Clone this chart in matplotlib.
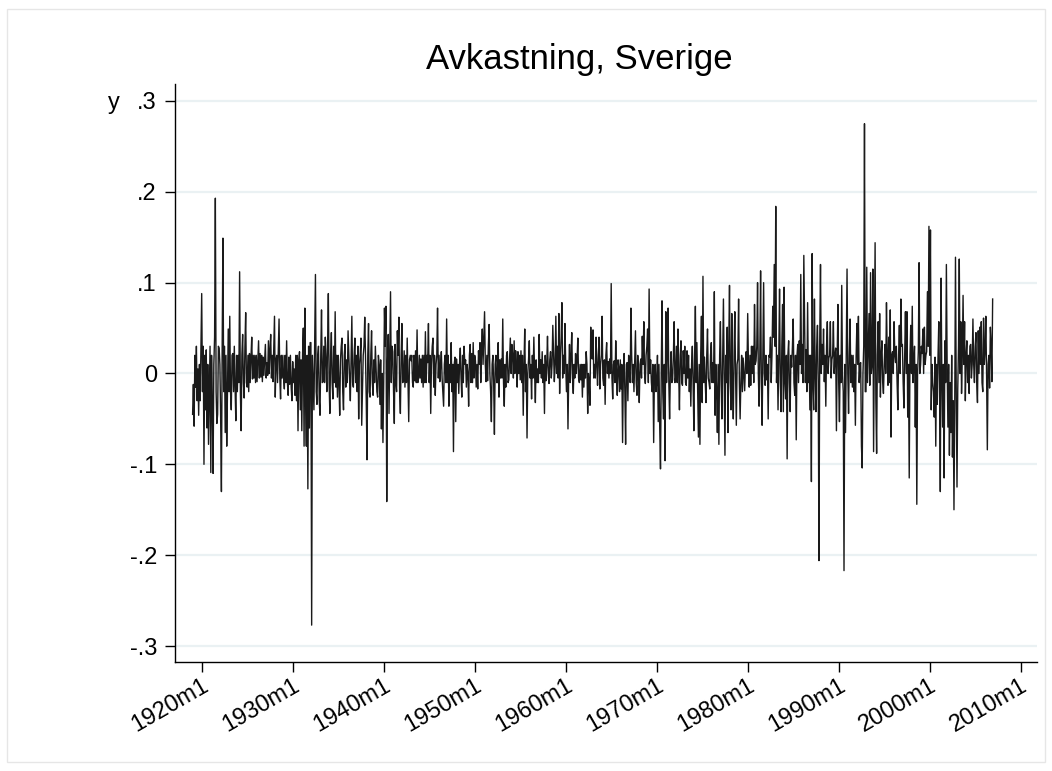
import numpy as np
import matplotlib
matplotlib.use('Agg')
import matplotlib.pyplot as plt
from matplotlib.patches import Rectangle

plt.rcParams['font.family'] = ['Liberation Sans', 'DejaVu Sans']

# monthly returns, first month 1919m1, one row per year
ret_1919 = [-0.045, -0.012, -0.058, 0.02, -0.015, 0.03, -0.03, 0.005, -0.046, 0.01, -0.03, 0.025]

ret_1920s = [
    0.088, -0.02, 0.03, -0.10, 0.02, -0.04, 0.026, -0.06, 0.01, -0.078, -0.02, 0.03,
    -0.109, 0.02, -0.03, -0.11, 0.01, 0.04, 0.193, -0.02, -0.055, -0.045, 0.03, 0.028,
    0.01, -0.05, -0.13, 0.03, 0.149, -0.02, 0.03, -0.065, 0.02, -0.08, -0.02, 0.049,
    -0.02, 0.063, -0.02, -0.04, 0.02, 0.022, -0.02, 0.03, -0.015, -0.052, 0.02, -0.02,
    0.02, -0.01, 0.112, -0.02, -0.063, 0.02, 0.043, -0.01, -0.027, 0.03, 0.067, -0.01,
    -0.015, 0.02, -0.02, 0.022, -0.01, 0.018, 0.04, -0.006, 0.02, -0.005, 0.02, -0.01,
    0.02, -0.009, 0.015, 0.036, -0.005, 0.022, -0.004, 0.02, -0.009, 0.018, -0.002, 0.015,
    0.032, -0.005, 0.012, -0.002, 0.036, 0.0, 0.026, 0.043, -0.005, 0.02, -0.009, 0.025,
    0.063, -0.026, 0.015, 0.02, -0.01, 0.025, 0.06, -0.005, -0.028, 0.02, -0.005, 0.02,
    -0.005, -0.017, 0.02, -0.01, 0.036, -0.01, -0.024, 0.018, -0.012, 0.02, -0.015, -0.03,
]

ret_1930s = [
    0.013, -0.01, 0.005, -0.024, 0.02, -0.03, 0.02, -0.063, 0.015, 0.024, -0.04, 0.015,
    -0.063, 0.02, 0.05, -0.08, 0.072, -0.03, -0.08, 0.02, -0.127, 0.03, -0.06, 0.034,
    0.034, -0.277, 0.02, -0.01, -0.04, 0.04, 0.109, -0.02, -0.034, 0.02, 0.03, -0.03,
    -0.046, 0.02, 0.07, -0.01, -0.009, 0.03, -0.01, 0.04, 0.016, -0.02, 0.03, 0.088,
    -0.01, -0.044, 0.02, 0.045, -0.01, -0.028, 0.03, -0.01, 0.068, -0.015, 0.02, -0.026,
    0.02, -0.01, -0.046, 0.015, 0.03, 0.039, -0.02, -0.04, 0.02, 0.032, -0.015, 0.015,
    -0.01, 0.047, 0.02, -0.005, -0.03, 0.015, 0.063, -0.01, -0.015, 0.02, 0.039, -0.01,
    0.02, -0.02, 0.03, -0.05, 0.01, 0.02, 0.039, -0.057, -0.02, 0.02, 0.03, 0.062,
    0.02, -0.03, -0.095, 0.02, 0.055, -0.02, -0.026, 0.02, 0.047, -0.01, -0.024, 0.015,
    -0.01, 0.03, 0.005, -0.02, -0.026, 0.02, 0.01, -0.034, 0.015, -0.061, 0.0, -0.076,
]

ret_1940s = [
    -0.01, 0.072, 0.03, 0.074, -0.141, 0.01, 0.043, -0.044, 0.02, 0.09, -0.01, 0.03,
    0.024, -0.02, -0.055, 0.032, -0.01, -0.02, 0.047, 0.02, 0.062, -0.02, -0.044, 0.02,
    0.055, -0.01, -0.009, 0.025, -0.015, 0.02, -0.01, 0.039, -0.01, -0.053, 0.015, 0.02,
    0.014, 0.02, -0.01, -0.015, 0.02, -0.008, 0.025, -0.01, 0.048, -0.01, -0.005, 0.02,
    -0.005, 0.016, -0.01, 0.02, -0.015, 0.02, -0.01, 0.046, -0.01, 0.02, 0.012, 0.055,
    -0.01, 0.02, -0.044, 0.01, 0.03, 0.039, -0.015, 0.02, -0.024, 0.01, 0.02, 0.072,
    -0.005, 0.02, -0.009, 0.01, 0.024, -0.005, -0.02, -0.036, 0.01, 0.02, -0.01, 0.06,
    -0.01, 0.02, -0.036, 0.01, -0.01, 0.034, -0.02, 0.01, -0.086, 0.01, 0.018, -0.053,
    0.016, -0.01, 0.01, -0.022, 0.01, 0.028, -0.005, -0.026, 0.02, -0.01, 0.03, 0.01,
    0.015, -0.015, 0.01, 0.0, -0.036, 0.02, 0.032, -0.01, 0.022, -0.01, 0.034, -0.005,
]

ret_1950s = [
    0.02, 0.014, -0.015, 0.01, -0.017, 0.025, 0.01, 0.034, -0.01, 0.025, 0.049, 0.01,
    0.04, 0.068, 0.01, -0.009, 0.02, -0.008, 0.03, 0.054, 0.0, -0.02, -0.053, 0.01,
    0.02, -0.01, -0.067, 0.01, 0.02, -0.01, -0.01, 0.034, -0.026, 0.015, -0.005, 0.016,
    -0.005, 0.06, -0.01, -0.036, 0.01, -0.015, 0.02, 0.024, -0.01, -0.007, 0.015, 0.039,
    0.0, 0.032, 0.02, -0.005, 0.036, 0.0, 0.025, 0.012, -0.015, 0.024, 0.0, 0.02,
    -0.007, 0.025, -0.01, 0.02, -0.046, 0.01, 0.049, -0.02, 0.01, -0.071, 0.0, 0.015,
    0.036, -0.005, 0.01, -0.028, 0.02, -0.005, 0.04, 0.0, -0.032, 0.015, -0.01, 0.005,
    -0.01, 0.043, 0.0, 0.015, -0.005, 0.024, -0.01, 0.01, -0.044, 0.02, -0.008, 0.01,
    0.041, 0.0, -0.011, 0.015, 0.024, -0.005, 0.01, 0.053, 0.02, -0.009, 0.01, 0.063,
    0.0, 0.03, -0.005, 0.066, -0.022, 0.02, 0.04, 0.078, -0.005, 0.02, 0.0, 0.055,
]

ret_1960s = [
    0.01, -0.02, 0.01, -0.061, 0.0, 0.032, -0.01, 0.02, 0.045, -0.005, -0.022, 0.01,
    -0.005, 0.022, 0.0, 0.015, 0.039, -0.005, -0.01, 0.01, -0.007, 0.01, -0.026, 0.01,
    -0.015, 0.01, -0.005, 0.024, 0.01, -0.044, 0.0, -0.01, -0.035, 0.051, 0.03, 0.016,
    0.048, -0.005, 0.01, -0.005, 0.04, 0.01, -0.013, 0.02, 0.04, -0.017, 0.01, 0.02,
    0.063, -0.005, -0.013, 0.015, -0.034, 0.02, 0.034, 0.0, 0.013, -0.005, 0.016, 0.0,
    0.099, -0.005, -0.028, 0.01, 0.014, -0.01, 0.036, 0.0, -0.024, 0.015, 0.007, -0.02,
    0.015, -0.017, 0.01, -0.076, 0.0, 0.022, -0.02, -0.078, 0.01, 0.012, -0.03, 0.02,
    0.0, -0.01, 0.072, 0.02, -0.01, 0.01, -0.02, 0.015, 0.047, -0.01, -0.024, 0.02,
    0.0, -0.032, 0.01, 0.016, -0.005, 0.041, 0.01, 0.057, 0.0, -0.011, 0.02, 0.03,
    0.049, -0.01, 0.093, 0.0, 0.015, -0.01, -0.02, 0.01, -0.076, 0.0, 0.01, -0.02,
]

ret_1970s = [
    -0.009, 0.02, -0.053, 0.01, -0.06, -0.105, 0.0, 0.08, -0.02, -0.05, 0.01, -0.096,
    0.068, -0.01, 0.02, 0.072, -0.01, -0.05, 0.0, 0.024, -0.01, -0.007, 0.02, 0.057,
    -0.01, -0.005, 0.03, -0.01, 0.049, 0.0, -0.04, 0.02, 0.036, -0.01, -0.013, 0.025,
    0.0, 0.03, -0.01, -0.013, 0.025, -0.005, 0.02, -0.02, 0.005, -0.036, 0.01, 0.03,
    -0.01, -0.063, 0.02, 0.074, -0.01, 0.034, -0.02, -0.07, 0.01, -0.078, 0.02, 0.063,
    -0.032, 0.107, -0.01, 0.018, -0.01, -0.032, 0.02, 0.049, -0.005, -0.01, -0.017, 0.02,
    0.034, -0.01, 0.012, -0.01, 0.09, -0.046, 0.01, -0.02, -0.065, 0.01, -0.078, 0.02,
    0.057, -0.01, -0.05, 0.02, 0.082, -0.01, -0.09, 0.02, -0.01, 0.051, -0.065, 0.03,
    0.097, -0.01, -0.04, 0.066, -0.01, -0.05, 0.02, 0.068, 0.0, -0.057, 0.01, 0.016,
    0.082, -0.01, -0.05, -0.009, 0.02, -0.02, 0.017, 0.0, -0.019, 0.01, 0.024, 0.0,
]

ret_1980s = [
    0.066, 0.01, -0.015, 0.02, -0.013, 0.03, 0.0, 0.03, -0.01, 0.076, 0.01, 0.014,
    0.03, 0.1, 0.0, -0.036, 0.02, 0.113, -0.01, -0.057, 0.02, 0.1, 0.0, -0.013,
    0.02, -0.007, 0.01, -0.05, 0.02, 0.018, 0.04, -0.01, 0.02, 0.074, 0.04, 0.12,
    0.03, 0.184, -0.01, 0.02, -0.04, 0.02, 0.093, -0.01, -0.042, 0.03, 0.076, -0.042,
    0.095, -0.01, -0.028, 0.02, -0.094, 0.02, 0.036, -0.01, -0.042, 0.02, 0.007, 0.03,
    0.06, -0.01, -0.024, 0.02, -0.073, 0.02, 0.032, -0.01, 0.036, 0.01, 0.109, 0.0,
    0.032, -0.01, 0.13, 0.057, -0.01, 0.026, -0.02, 0.078, -0.01, 0.02, -0.04, 0.02,
    -0.119, 0.132, -0.01, -0.04, 0.082, 0.0, -0.042, 0.03, 0.053, -0.01, -0.206, 0.036,
    0.12, 0.0, 0.032, 0.01, 0.049, -0.009, 0.02, -0.036, 0.03, 0.057, 0.0, 0.017,
    0.02, 0.057, -0.005, 0.015, 0.02, 0.057, 0.0, 0.02, 0.028, -0.063, 0.02, 0.076,
]

ret_1990s = [
    -0.01, -0.053, 0.02, -0.01, 0.097, 0.0, -0.02, -0.217, 0.01, -0.065, 0.02, 0.115,
    0.0, -0.044, 0.02, 0.06, -0.01, 0.02, -0.015, 0.02, -0.02, 0.01, -0.057, 0.02,
    0.055, 0.01, 0.063, -0.01, 0.01, 0.012, -0.08, -0.104, 0.0, 0.03, 0.275, -0.02,
    -0.02, 0.117, -0.01, 0.03, 0.066, -0.013, 0.111, 0.0, 0.01, 0.115, -0.086, 0.03,
    0.144, -0.03, -0.088, 0.02, 0.057, -0.01, 0.066, -0.026, 0.02, 0.036, -0.01, -0.022,
    0.01, 0.032, 0.0, 0.078, 0.02, -0.013, 0.04, -0.01, 0.07, -0.07, 0.02, 0.024,
    0.0, 0.057, 0.02, 0.012, 0.03, -0.01, -0.04, 0.02, 0.053, 0.0, 0.082, 0.03,
    0.032, -0.01, -0.038, 0.02, 0.068, 0.0, 0.068, -0.048, 0.01, -0.115, 0.02, 0.053,
    0.0, 0.074, -0.01, 0.012, 0.03, -0.059, 0.01, -0.144, 0.0, 0.024, 0.122, 0.0,
    0.01, 0.03, 0.022, 0.049, 0.0, 0.051, 0.01, 0.02, 0.024, 0.09, 0.03, 0.162,
]

ret_2000s = [
    0.02, 0.158, -0.04, 0.01, -0.01, -0.02, -0.048, 0.018, -0.08, 0.01, -0.034, 0.02,
    0.057, -0.01, -0.13, 0.105, 0.0, -0.059, 0.01, -0.115, 0.036, -0.01, 0.12, 0.01,
    -0.059, 0.01, -0.09, -0.01, -0.065, 0.02, -0.092, -0.03, -0.15, -0.038, 0.128, -0.02,
    -0.125, -0.017, 0.03, 0.126, 0.0, 0.057, -0.022, 0.02, 0.086, 0.01, 0.057, -0.03,
    0.02, 0.036, -0.01, 0.02, -0.022, 0.03, 0.032, -0.005, 0.01, 0.06, 0.01, -0.01,
    0.03, 0.045, -0.01, -0.032, 0.047, 0.0, 0.051, 0.01, 0.057, -0.01, -0.02, 0.061,
    0.01, 0.024, 0.063, 0.0, -0.084, 0.01, 0.02, -0.016, 0.051, 0.032, -0.009, 0.082,
]

start_year = 1919
tick_years = [1920, 1930, 1940, 1950, 1960, 1970, 1980, 1990, 2000, 2010]
y_ticks = [-0.3, -0.2, -0.1, 0.0, 0.1, 0.2, 0.3]
y_labels = ['-.3', '-.2', '-.1', '0', '.1', '.2', '.3']

y = np.array(ret_1919 + ret_1920s + ret_1930s + ret_1940s + ret_1950s
             + ret_1960s + ret_1970s + ret_1980s + ret_1990s + ret_2000s)
# Stata-style monthly date: months since 1960m1
t = (start_year - 1960) * 12 + np.arange(len(y))

W, H = 1052, 771
fig = plt.figure(figsize=(W / 100, H / 100), dpi=100)
fig.patches.append(Rectangle((7 / W, 9 / H), 1 - 14 / W, 1 - 18 / H,
                             transform=fig.transFigure, fill=False,
                             ec='#e6e6e6', lw=1))

left, right, top, bottom = 175, 1037, 84, 662
ax = fig.add_axes([left / W, 1 - bottom / H, (right - left) / W, (bottom - top) / H])
ax.plot(t, y, color='#1a1a1a', lw=1.0)

px_per_month = (1020.7 - 201.7) / 1080
ax.set_xlim(-480 - (201.7 - left) / px_per_month, -480 + (right - 201.7) / px_per_month)
ax.set_ylim(-0.3176, 0.3187)
ax.set_xticks([(yr - 1960) * 12 for yr in tick_years])
ax.set_xticklabels([f'{yr}m1' for yr in tick_years], rotation=30,
                   ha='right', va='top', rotation_mode='anchor')
ax.set_yticks(y_ticks)
ax.set_yticklabels(y_labels)

ax.grid(axis='y', color='#eaf1f3', lw=1.6)
ax.set_axisbelow(True)
for side in ('top', 'right'):
    ax.spines[side].set_visible(False)
for side in ('left', 'bottom'):
    ax.spines[side].set_linewidth(1.0)
ax.tick_params(direction='out', length=7.5, width=1, labelsize=17)
ax.tick_params(axis='y', pad=5.5)
ax.tick_params(axis='x', pad=1.5)

fig.text(579 / W, 1 - 60 / H, 'Avkastning, Sverige', ha='center', va='center',
         fontsize=25)
fig.text(114 / W, 1 - 103 / H, 'y', ha='center', va='center', fontsize=17)

fig.savefig('out.png', dpi=100)
